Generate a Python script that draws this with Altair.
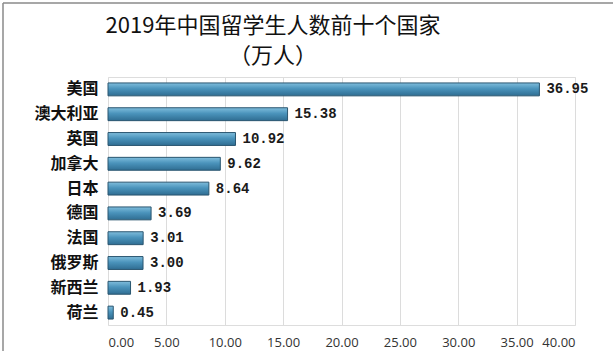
import altair as alt
import pandas as pd

countries = ["美国", "澳大利亚", "英国", "加拿大", "日本", "德国", "法国", "俄罗斯", "新西兰", "荷兰"]
values = [36.95, 15.38, 10.92, 9.62, 8.64, 3.69, 3.01, 3.00, 1.93, 0.45]
x_ticks = [0, 5, 10, 15, 20, 25, 30, 35, 40]
title_lines = ["2019年中国留学生人数前十个国家", "（万人）"]

df = pd.DataFrame({"country": countries, "value": values})
df["label"] = [f"{v:.2f}" for v in values]

W, H = 467, 248
PAD_L, PAD_T = 108, 77

xscale = alt.Scale(domain=[0, 40], nice=False)
yenc = alt.Y("country:N", sort=countries,
             scale=alt.Scale(paddingInner=0.48, paddingOuter=0.24),
             axis=alt.Axis(title=None, labelFont="Noto Sans CJK SC", labelFontSize=16,
                           labelFontWeight="bold", labelColor="#111111", labelPadding=10,
                           ticks=False, domain=False))

grad = alt.Gradient(
    gradient="linear",
    stops=[alt.GradientStop(color="#7fbddc", offset=0),
           alt.GradientStop(color="#4a93bb", offset=0.45),
           alt.GradientStop(color="#2f6d92", offset=1)],
    x1=0, x2=0, y1=0, y2=1)

bars = alt.Chart(df).mark_bar(color=grad, stroke="#2a5670", strokeWidth=1).encode(
    x=alt.X("value:Q", scale=xscale,
            axis=alt.Axis(title=None, values=x_ticks, format=".2f",
                          labelFont="Open Sans", labelFontSize=13, labelColor="#333333",
                          labelPadding=11, ticks=False, domain=False,
                          grid=True, gridColor="#dcdcdc", gridWidth=1)),
    y=yenc,
)

labels = alt.Chart(df).mark_text(align="left", dx=7, font="Liberation Mono",
                                 fontSize=14, fontWeight="bold", color="#1a1a1a").encode(
    x=alt.X("value:Q", scale=xscale),
    y=alt.Y("country:N", sort=countries),
    text="label:N",
)

title1 = alt.Chart().mark_text(font="Noto Sans CJK SC", fontSize=22, color="#111111",
                               align="center", baseline="middle").encode(
    x=alt.value(273 - PAD_L), y=alt.value(26 - PAD_T), text=alt.value(title_lines[0]))
title2 = alt.Chart().mark_text(font="Noto Sans CJK SC", fontSize=22, color="#111111",
                               align="center", baseline="middle").encode(
    x=alt.value(273 - PAD_L), y=alt.value(56 - PAD_T), text=alt.value(title_lines[1]))

frame_left = alt.Chart().mark_rule(color="#8a8a8a", strokeWidth=1.5).encode(
    x=alt.value(-PAD_L + 3), y=alt.value(-PAD_T + 3), y2=alt.value(H + 30))
frame_top = alt.Chart().mark_rule(color="#8a8a8a", strokeWidth=1.5).encode(
    x=alt.value(-PAD_L + 3), x2=alt.value(W + 40), y=alt.value(-PAD_T + 3))

chart = alt.layer(bars, labels, title1, title2, frame_left, frame_top).properties(
    width=W, height=H,
    autosize=alt.AutoSizeParams(type="none"),
    padding={"left": PAD_L, "top": PAD_T, "right": 613 - PAD_L - W, "bottom": 351 - PAD_T - H},
).configure_view(stroke=None).configure(background="white")

chart.save("out.html", embed_options={"renderer": "svg", "actions": False})
